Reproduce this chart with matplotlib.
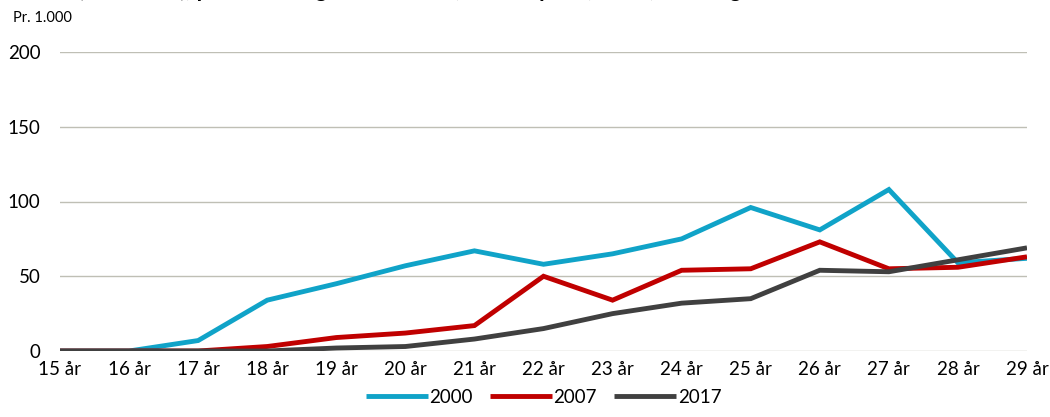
import matplotlib
matplotlib.use("Agg")
import matplotlib.pyplot as plt

categories = ["15 år", "16 år", "17 år", "18 år", "19 år", "20 år", "21 år", "22 år",
              "23 år", "24 år", "25 år", "26 år", "27 år", "28 år", "29 år"]
s2000 = [0, 0, 7, 34, 45, 57, 67, 58, 65, 75, 96, 81, 108, 59, 62]
s2007 = [0, 0, 0, 3, 9, 12, 17, 50, 34, 54, 55, 73, 55, 56, 63]
s2017 = [0, 0, 0, 0, 2, 3, 8, 15, 25, 32, 35, 54, 53, 61, 69]
series_names = ["2000", "2007", "2017"]
yticks = [0, 50, 100, 150, 200]

colors = ["#10A3C8", "#C00000", "#404040"]

plt.rcParams['font.family'] = ['Lato', 'DejaVu Sans']

fig = plt.figure(figsize=(10.5, 4.17), dpi=100)
W, H = 1050, 417
ax = fig.add_axes([60 / W, 1 - 351 / H, (1027 - 60) / W, (351 - 52) / H])

x = list(range(len(categories)))
for vals, name, c in zip([s2000, s2007, s2017], series_names, colors):
    ax.plot(x, vals, color=c, lw=3.5, label=name, solid_joinstyle='miter', solid_capstyle='butt', zorder=3)

ax.set_xlim(0, len(categories) - 1)
ax.set_ylim(0, 200)
ax.set_yticks(yticks)
ax.set_xticks(x)
ax.set_xticklabels(categories)
ax.tick_params(axis='both', length=0, labelsize=13.5, colors='black')
ax.tick_params(axis='y', pad=14)
ax.tick_params(axis='x', pad=7)
ax.grid(axis='y', color='#BFBFB5', lw=1.0, zorder=0)
for s in ax.spines.values():
    s.set_visible(False)

fig.text(13 / W, 1 - 22 / H, "Pr. 1.000", fontsize=10.5, va='baseline', ha='left')
fig.text(-120 / W, 1 + 3.2 / H,
         "Figur 1. Domfældte (straffelov), pr. 1.000 unge i hver alder, fordelt på år, 2000, 2007 og 2017",
         fontsize=16, fontweight='bold', va='baseline', ha='left')

ax.legend(loc='lower center', bbox_to_anchor=(0.5, -0.24), ncol=3, frameon=False,
          fontsize=13.5, handlelength=3.3, handletextpad=0.1, columnspacing=0.9)

fig.savefig("out.png", dpi=100)
